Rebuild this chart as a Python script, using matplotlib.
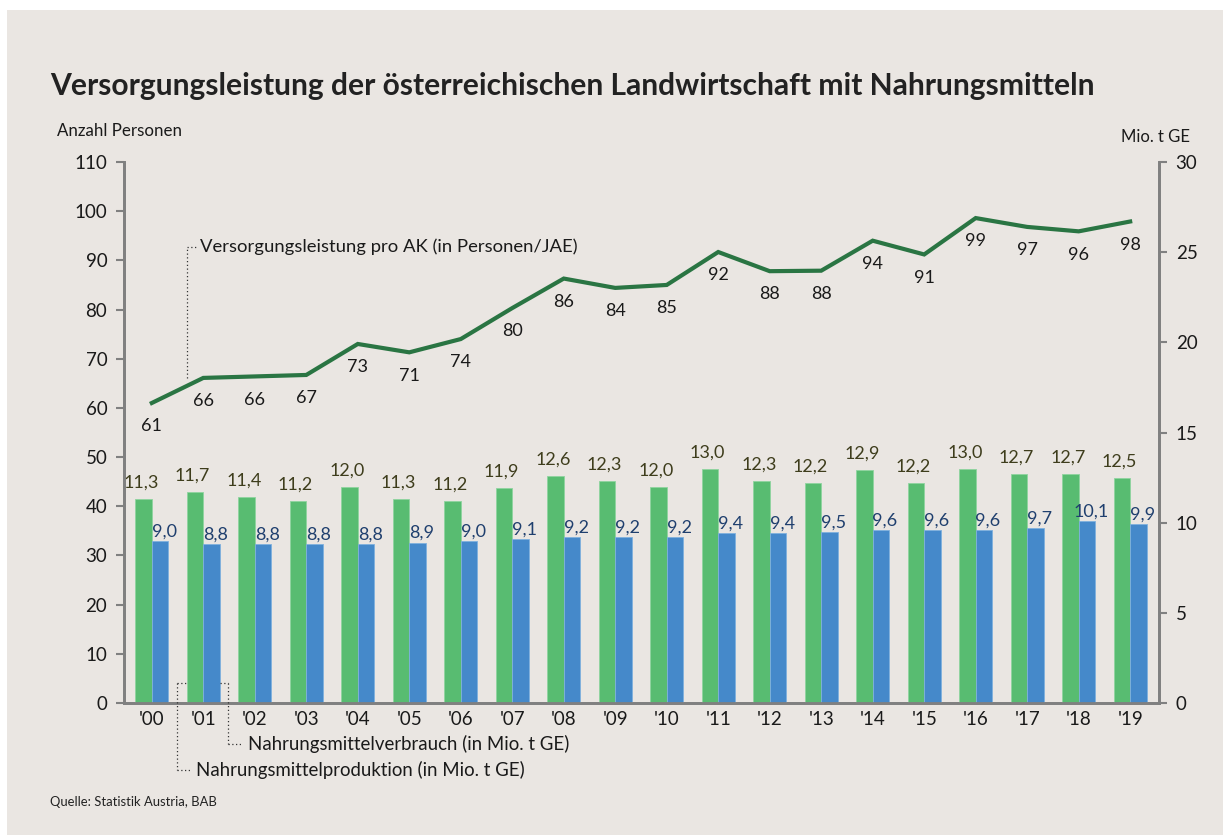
import matplotlib
matplotlib.use("Agg")
import matplotlib.pyplot as plt
from matplotlib.patches import Rectangle
import numpy as np

plt.rcParams['font.family'] = ['Lato', 'DejaVu Sans']

years = ["'00", "'01", "'02", "'03", "'04", "'05", "'06", "'07", "'08", "'09",
         "'10", "'11", "'12", "'13", "'14", "'15", "'16", "'17", "'18", "'19"]
versorgung = [61.0, 66.1, 66.4, 66.7, 73.0, 71.3, 74.0, 80.3, 86.3, 84.4,
              85.0, 91.7, 87.8, 87.9, 94.0, 91.2, 98.6, 96.8, 95.9, 97.9]
versorgung_labels = [61, 66, 66, 67, 73, 71, 74, 80, 86, 84,
                     85, 92, 88, 88, 94, 91, 99, 97, 96, 98]
produktion = [11.3, 11.7, 11.4, 11.2, 12.0, 11.3, 11.2, 11.9, 12.6, 12.3,
              12.0, 13.0, 12.3, 12.2, 12.9, 12.2, 13.0, 12.7, 12.7, 12.5]
verbrauch = [9.0, 8.8, 8.8, 8.8, 8.8, 8.9, 9.0, 9.1, 9.2, 9.2,
             9.2, 9.4, 9.4, 9.5, 9.6, 9.6, 9.6, 9.7, 10.1, 9.9]

BG = '#EAE6E2'
GREEN_BAR = '#58BC71'
BLUE_BAR = '#4589CA'
LINE = '#2A7543'
AXIS = '#808080'

W, H = 1223, 835
fig = plt.figure(figsize=(W / 100, H / 100), dpi=100)
fig.patch.set_facecolor('white')
fig.patches.append(Rectangle((7 / W, 0), 1 - 7 / W, 1 - 10 / H, transform=fig.transFigure,
                             facecolor=BG, edgecolor='none', zorder=-10))

def fx(px):
    return px / W

def fy(py):
    return 1 - py / H

ax2 = fig.add_axes([fx(124), fy(703), fx(1159) - fx(124), fy(162) - fy(703)])
ax = ax2.twinx()
ax2.yaxis.tick_right()
ax.yaxis.tick_left()
ax.yaxis.set_label_position('left')
ax2.set_facecolor('none')
ax.set_facecolor('none')

x = np.arange(len(years))
bw = 0.32

# bars on right axis (ax2)
ax2.bar(x - bw / 2, produktion, width=bw, color=GREEN_BAR, zorder=3, edgecolor='#8fd49f', linewidth=0.6)
ax2.bar(x + bw / 2, verbrauch, width=bw, color=BLUE_BAR, zorder=3, edgecolor='#7fb0de', linewidth=0.6)
ax2.set_ylim(0, 30)
ax2.set_yticks(range(0, 31, 5))
for i, v in enumerate(produktion):
    ax2.annotate(f"{v:.1f}".replace('.', ','), (x[i] - bw / 2 - 0.05, v), xytext=(0, 6),
                 textcoords='offset points', ha='center', va='bottom', fontsize=13, color='#3E3D1C')
for i, v in enumerate(verbrauch):
    ax2.annotate(f"{v:.1f}".replace('.', ','), (x[i] + bw / 2 + 0.08, v), xytext=(0, 1),
                 textcoords='offset points', ha='center', va='bottom', fontsize=13, color='#1F3F6E')

# line on left axis (ax)
ax.plot(x, versorgung, color=LINE, linewidth=3, zorder=4, solid_joinstyle='miter')
ax.set_ylim(0, 110)
ax.set_yticks(range(0, 111, 10))
for i, (v, lab) in enumerate(zip(versorgung, versorgung_labels)):
    ax.annotate(str(lab), (x[i], v), xytext=(0, -11), textcoords='offset points',
                ha='center', va='top', fontsize=13, color='#1a1a1a')

ax.set_xlim(-0.54, 19.56)
ax2.set_xlim(-0.54, 19.56)
ax2.set_xticks(x)
ax2.set_xticklabels(years)

for a in (ax, ax2):
    for s in ('top',):
        a.spines[s].set_visible(False)
    for s in ('left', 'right', 'bottom'):
        a.spines[s].set_color(AXIS)
        a.spines[s].set_linewidth(2)
    a.tick_params(axis='both', colors=AXIS, labelcolor='#1a1a1a', labelsize=13.5, length=6, width=1.5)
ax2.tick_params(axis='x', length=0, pad=6)
ax2.tick_params(axis='y', pad=6)
ax.tick_params(axis='y', pad=6)

# axis titles
fig.text(fx(57), fy(131), 'Anzahl Personen', fontsize=12.2, color='#1a1a1a', va='center', ha='left')
fig.text(fx(1190), fy(137), 'Mio. t GE', fontsize=12, color='#1a1a1a', va='center', ha='right')

# title
fig.text(fx(50), fy(86), 'Versorgungsleistung der österreichischen Landwirtschaft mit Nahrungsmitteln',
         fontsize=21.6, fontweight='bold', color='#222222', va='center', ha='left')

# source
fig.text(fx(50), fy(802), 'Quelle: Statistik Austria, BAB', fontsize=9.4, color='#222222', va='center', ha='left')

# leader lines (dotted)
dot = dict(color='#333333', linewidth=0.9, linestyle=(0, (1, 2)), transform=fig.transFigure, zorder=1)
fig.add_artist(plt.Line2D([fx(187), fx(187)], [fy(378), fy(247)], **dot))
fig.add_artist(plt.Line2D([fx(187), fx(196)], [fy(247), fy(247)], **dot))
fig.text(fx(200), fy(247), 'Versorgungsleistung pro AK (in Personen/JAE)', fontsize=13.3,
         color='#1a1a1a', va='center', ha='left')

fig.add_artist(plt.Line2D([fx(177), fx(177)], [fy(683), fy(770)], **dot))
fig.add_artist(plt.Line2D([fx(177), fx(188)], [fy(683), fy(683)], **dot))
fig.add_artist(plt.Line2D([fx(177), fx(190)], [fy(770), fy(770)], **dot))
fig.text(fx(196), fy(770), 'Nahrungsmittelproduktion (in Mio. t GE)', fontsize=13.4,
         color='#1a1a1a', va='center', ha='left')

fig.add_artist(plt.Line2D([fx(228), fx(228)], [fy(683), fy(744)], **dot))
fig.add_artist(plt.Line2D([fx(220), fx(228)], [fy(683), fy(683)], **dot))
fig.add_artist(plt.Line2D([fx(228), fx(242)], [fy(744), fy(744)], **dot))
fig.text(fx(248), fy(744), 'Nahrungsmittelverbrauch (in Mio. t GE)', fontsize=13.4,
         color='#1a1a1a', va='center', ha='left')

fig.savefig('out.png', dpi=100, facecolor=fig.get_facecolor())
